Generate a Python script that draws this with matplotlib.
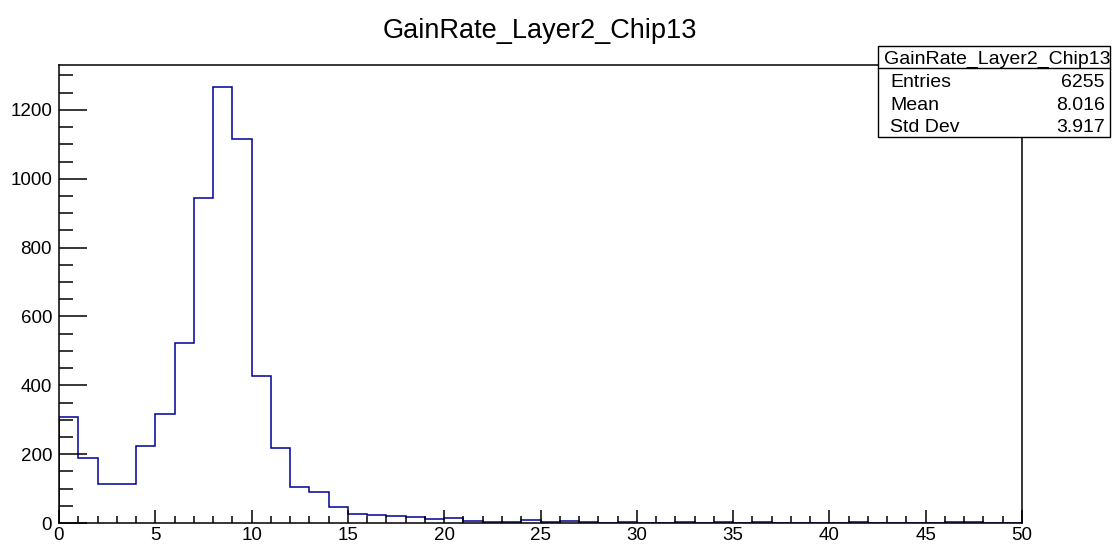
import numpy as np
import matplotlib.pyplot as plt
from matplotlib.patches import Rectangle
from matplotlib.ticker import MultipleLocator

plt.rcParams['font.family'] = ['Liberation Sans', 'DejaVu Sans']

# histogram: 50 bins of width 1 from 0 to 50
bin_lo = 0
bin_hi = 50
counts = [309, 188, 114, 112, 224, 318, 524, 944, 1267, 1114,
          428, 217, 105, 89, 46, 26, 23, 20, 18, 11,
          14, 7, 3, 3, 10, 2, 5, 2, 1, 2,
          1, 1, 2, 1, 2, 1, 2, 1, 1, 1,
          1, 3, 1, 1, 1, 1, 3, 2, 1, 1]

hist_name = 'GainRate_Layer2_Chip13'
stat_names = ['Entries', 'Mean', 'Std Dev']
stat_values = ['6255', '8.016', '3.917']

W, H = 1112, 549
fig = plt.figure(figsize=(W / 100, H / 100), dpi=100)
ax = fig.add_axes([59 / W, 26 / H, (1022 - 59) / W, (523 - 65) / H])

edges = np.linspace(bin_lo, bin_hi, len(counts) + 1)
ax.stairs(counts, edges, color='#000099', linewidth=1.1)

ax.set_xlim(bin_lo, bin_hi)
ax.set_ylim(0, max(counts) * 1.05)

ax.xaxis.set_major_locator(MultipleLocator(5))
ax.xaxis.set_minor_locator(MultipleLocator(1))
ax.yaxis.set_major_locator(MultipleLocator(200))
ax.yaxis.set_minor_locator(MultipleLocator(50))
ax.tick_params(axis='both', which='both', direction='in', top=False, right=False,
               labelsize=13.5, width=1.1, color='black')
ax.tick_params(axis='x', which='major', length=9.5, pad=3)
ax.tick_params(axis='x', which='minor', length=5)
ax.tick_params(axis='y', which='major', length=20, pad=5)
ax.tick_params(axis='y', which='minor', length=10)
for s in ax.spines.values():
    s.set_linewidth(1.1)

fig.text(540 / W, 1 - 38.3 / H, hist_name, ha='center', va='baseline', fontsize=19.5)

# stats box
x0, x1 = 878 / W, 1110 / W
y_top, y_sep, y_bot = 1 - 45.7 / H, 1 - 67.7 / H, 1 - 136.7 / H
fig.patches.append(Rectangle((x0, y_bot), x1 - x0, y_top - y_bot, transform=fig.transFigure,
                             facecolor='white', edgecolor='black', linewidth=1.0, zorder=5))
fig.add_artist(plt.Line2D([x0, x1], [y_sep, y_sep], transform=fig.transFigure,
                          color='black', linewidth=1.0, zorder=6))
fig.text(997 / W, 1 - 63.5 / H, hist_name, ha='center', va='baseline', fontsize=14, zorder=7)
row_y = [87, 110.5, 132.5]
for name, val, yy in zip(stat_names, stat_values, row_y):
    fig.text(890 / W, 1 - yy / H, name, ha='left', va='baseline', fontsize=14, zorder=7)
    fig.text(1105 / W, 1 - yy / H, val, ha='right', va='baseline', fontsize=14, zorder=7)

fig.savefig('out.png', dpi=100)
